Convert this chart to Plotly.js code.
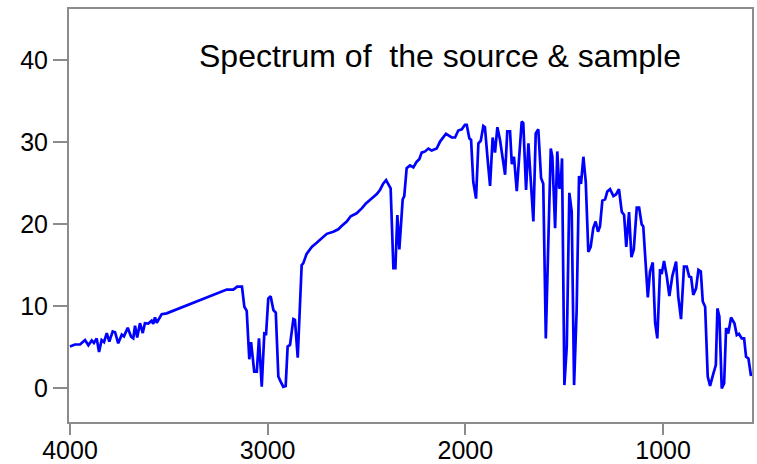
<!DOCTYPE html>
<html>
<head>
<meta charset="utf-8">
<script src="https://cdn.plot.ly/plotly-3.0.1.min.js"></script>
<style>html,body{margin:0;padding:0;background:#fff;}#chart{width:757px;height:464px;}</style>
</head>
<body>
<div id="chart"></div>
<script>
const chartTitle = "Spectrum of\u00a0\u00a0the source & sample";
const xTickValues = [4000, 3000, 2000, 1000];
const yTickValues = [0, 10, 20, 30, 40];
const wavenumber = [
 4000,3975,3949,3924,3907,3890,3879,3865,3853,3840,3828,3814,3801,3784,3772,3756,3738,3727,3708,3691,
 3680,3671,3660,3646,3632,3621,3604,3587,3579,3570,3561,3536,3511,3469,3427,3384,3342,3308,3275,3241,
 3207,3174,3154,3130,3118,3106,3093,3084,3068,3055,3044,3030,3017,3008,2997,2985,2971,2959,2946,2935,
 2921,2909,2899,2887,2870,2862,2848,2828,2820,2803,2777,2752,2727,2701,2668,2643,2626,2600,2580,2550,
 2524,2503,2474,2448,2432,2415,2401,2390,2378,2364,2354,2344,2334,2317,2309,2297,2280,2263,2246,2233,
 2221,2204,2187,2170,2145,2128,2098,2069,2052,2036,2018,2002,1993,1980,1971,1960,1946,1934,1922,1909,
 1901,1887,1875,1862,1850,1838,1825,1799,1788,1774,1765,1754,1740,1715,1707,1693,1681,1656,1644,1631,
 1617,1606,1593,1568,1560,1546,1535,1525,1518,1511,1499,1487,1474,1462,1450,1437,1425,1415,1403,1391,
 1378,1366,1353,1341,1329,1319,1307,1293,1282,1268,1251,1238,1223,1209,1197,1186,1172,1160,1148,1133,
 1121,1108,1100,1077,1066,1052,1040,1029,1015,1007,995,981,968,953,934,923,909,894,880,868,
 858,847,833,821,809,799,787,774,762,749,733,725,715,703,691,681,670,656,639,627,
 616,602,590,580,568,555
];
const intensity = [
 5.05,5.3,5.3,5.85,5.2,5.8,5.5,6.05,4.4,5.85,5.6,6.7,5.65,6.9,6.8,5.45,6.5,6.3,7.35,6.25,
 6.05,7.6,6.15,7.9,6.7,7.9,7.85,8.2,7.8,8.6,7.95,9.0,9.1,9.5,9.9,10.3,10.7,11.0,11.35,11.7,
 12.0,12.0,12.35,12.35,9.9,9.4,3.5,5.6,2.0,2.0,6.05,0.15,6.65,6.6,10.9,11.2,9.5,9.2,1.4,0.8,
 0.15,0.25,5.05,5.25,8.4,8.3,3.7,15.0,15.2,16.35,17.2,17.7,18.25,18.8,19.05,19.35,19.75,20.3,20.95,21.3,
 21.9,22.5,23.1,23.65,24.15,24.95,25.35,24.8,24.35,14.6,14.6,21.1,16.9,23.0,23.4,26.8,27.15,26.9,27.6,27.9,
 28.7,28.85,29.2,28.95,29.2,30.05,31.0,30.55,30.55,31.4,31.55,32.1,32.1,30.45,30.25,25.15,23.1,29.85,30.15,31.95,
 31.8,27.8,24.65,30.55,28.7,31.8,30.3,26.0,31.3,31.3,27.3,28.2,24.0,32.5,32.3,24.15,29.85,20.3,31.05,31.55,
 25.6,24.9,6.05,29.2,28.2,19.5,28.85,24.35,24.5,28.0,0.35,5.05,23.8,21.5,0.35,9.5,25.85,24.9,28.2,25.15,
 16.6,17.2,19.5,20.3,19.05,19.7,22.85,23.0,23.95,24.25,23.4,23.6,24.25,21.5,21.1,17.2,21.45,15.95,16.9,22.0,
 22.0,19.95,19.7,11.05,14.2,15.3,7.95,6.05,14.5,13.9,15.5,13.6,11.2,13.65,15.4,11.15,8.4,14.8,14.8,13.6,
 13.5,11.35,12.15,14.4,14.2,10.55,9.9,1.4,0.25,1.45,2.8,9.7,8.7,-0.05,0.55,7.3,6.65,8.6,7.9,6.45,
 6.6,6.05,6.05,3.8,3.6,1.45
];

const fontFamily = "Liberation Sans, Arial, sans-serif";
const axisColor = "#8c8c8c";

Plotly.newPlot("chart", [{
  x: wavenumber,
  y: intensity,
  type: "scatter",
  mode: "lines",
  line: {color: "#0000ff", width: 2.7},
  hoverinfo: "skip"
}], {
  width: 757, height: 464,
  margin: {l: 69, r: 5, t: 9, b: 42, pad: 0},
  paper_bgcolor: "#ffffff",
  plot_bgcolor: "#ffffff",
  showlegend: false,
  font: {family: fontFamily, color: "#000000", size: 25},
  xaxis: {
    range: [4005, 550],
    tickvals: xTickValues,
    ticktext: xTickValues.map(String),
    ticks: "outside", ticklen: 11, tickwidth: 2, tickcolor: axisColor,
    ticklabelstandoff: -6,
    showline: true, linecolor: axisColor, linewidth: 2, mirror: true,
    showgrid: false, zeroline: false,
    tickfont: {family: fontFamily, size: 25, color: "#000"}
  },
  yaxis: {
    range: [-4.15, 46.22],
    tickvals: yTickValues,
    ticktext: yTickValues.map(String),
    ticks: "outside", ticklen: 14, tickwidth: 2, tickcolor: axisColor,
    showline: true, linecolor: axisColor, linewidth: 2, mirror: true,
    showgrid: false, zeroline: false,
    tickfont: {family: fontFamily, size: 25, color: "#000"}
  },
  annotations: [{
    text: chartTitle,
    xref: "paper", yref: "paper",
    x: 0.543, y: 0.887,
    xanchor: "center", yanchor: "middle",
    showarrow: false,
    font: {family: fontFamily, size: 32, color: "#000"}
  }]
}, {staticPlot: true, displayModeBar: false});
</script>
</body>
</html>
